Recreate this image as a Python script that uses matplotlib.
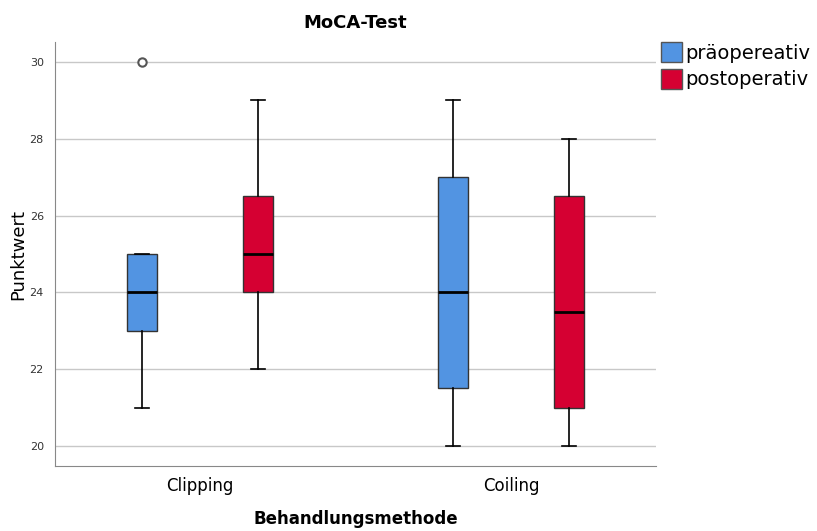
import matplotlib.pyplot as plt
from matplotlib.patches import Patch

# Daten
gruppen = ['Clipping', 'Coiling']
serien = ['präopereativ', 'postoperativ']
farben = ['#5294E2', '#D50032']

# je Serie: (whislo, q1, med, q3, whishi, Ausreisser) pro Gruppe
prae = [(21, 23, 24, 25, 25, [30]), (20, 21.5, 24, 27, 29, [])]
post = [(22, 24, 25, 26.5, 29, []), (20, 21, 23.5, 26.5, 28, [])]
werte = [prae, post]

fig = plt.figure(figsize=(8.17, 5.31), dpi=100)
ax = fig.add_axes([0.0673, 0.1224, 0.7357, 0.7985])

offsets = [-0.1865, 0.1865]
for s, serie in enumerate(werte):
    stats = []
    for g, (lo, q1, med, q3, hi, fl) in enumerate(serie):
        stats.append({'whislo': lo, 'q1': q1, 'med': med, 'q3': q3,
                      'whishi': hi, 'fliers': fl})
    pos = [g + offsets[s] for g in range(len(gruppen))]
    ax.bxp(stats, positions=pos, widths=0.097, patch_artist=True,
           showfliers=True,
           boxprops=dict(facecolor=farben[s], edgecolor='#333333', linewidth=1),
           medianprops=dict(color='black', linewidth=2),
           whiskerprops=dict(color='black', linewidth=1.2),
           capprops=dict(color='black', linewidth=1.2),
           flierprops=dict(marker='o', markerfacecolor='white',
                           markeredgecolor='#555555', markersize=6,
                           markeredgewidth=1.5),
           capwidths=0.045, zorder=3)

ax.set_xlim(-0.466, 1.466)
ax.set_ylim(19.48, 30.52)
ax.set_yticks([20, 22, 24, 26, 28, 30])
ax.set_xticks([0, 1])
ax.set_xticklabels(gruppen, fontsize=12)
ax.tick_params(axis='y', length=0, labelsize=8, labelcolor='#333333', pad=8)
ax.tick_params(axis='x', length=0, pad=8)
ax.grid(axis='y', color='#c8c8c8', linewidth=1, zorder=0)
ax.set_axisbelow(True)
for sp in ['top', 'right']:
    ax.spines[sp].set_visible(False)
for sp in ['left', 'bottom']:
    ax.spines[sp].set_color('#888888')

ax.set_ylabel('Punktwert', fontsize=13, labelpad=2)
ax.set_xlabel('Behandlungsmethode', fontsize=12, fontweight='bold', labelpad=11)
ax.set_title('MoCA-Test', fontsize=13, fontweight='bold', pad=10)

handles = [Patch(facecolor=farben[i], edgecolor='#555555', label=serien[i])
           for i in range(2)]
fig.legend(handles=handles, loc='upper left', bbox_to_anchor=(0.799, 0.935),
           frameon=False, fontsize=14, handlelength=1.1, handleheight=1.2,
           handletextpad=0.15, labelspacing=0.3, borderaxespad=0)

fig.savefig('out.png', dpi=100)
